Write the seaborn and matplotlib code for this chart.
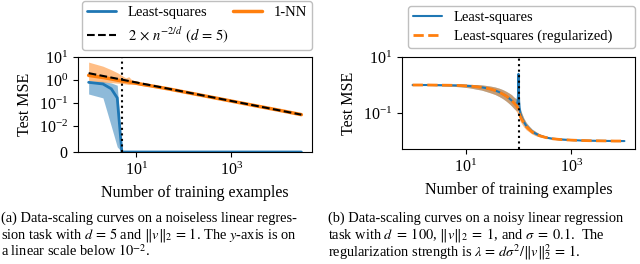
import numpy as np
import pandas as pd
import matplotlib
matplotlib.use("Agg")
import matplotlib.pyplot as plt
import seaborn as sns

# panel (a): noiseless, d = 5
n_a = [1, 2, 3, 4, 5, 6, 7, 8, 10, 13, 20, 50, 100, 300, 1000, 3000, 10000, 30000]
knn = [1.6, 1.3, 1.12, 1.0, 0.92, 0.87, 0.84, 0.79, 0.74, 0.66, 0.57, 0.41, 0.31, 0.2, 0.124, 0.08, 0.05, 0.032]
knn_lo = [0.95, 0.82, 0.78, 0.74, 0.72, 0.68, 0.64, 0.66, 0.64, 0.58, 0.53, 0.39, 0.3, 0.195, 0.121, 0.078, 0.049, 0.031]
knn_hi = [6.0, 4.0, 2.8, 2.1, 1.6, 1.25, 1.4, 1.05, 0.9, 0.78, 0.63, 0.43, 0.325, 0.206, 0.127, 0.082, 0.051, 0.033]

ls_n_a = [1, 2, 3, 4, 5, 30000]
ls_a = [0.8, 0.68, 0.42, 0.17, 0, 0]
ls_a_lo = [0.25, 0.17, 0.01, 0.002, 0, 0]
ls_a_hi = [0.92, 0.88, 0.75, 0.6, 0, 0]

ref_n = [1, 30000]
ref_y = [2.0, 0.032]

# panel (b): noisy, d = 100
n_b = [1, 2, 3, 5, 8, 12, 16, 20, 25, 30, 36, 43, 50, 58, 66, 74, 82, 88, 92, 96, 98, 99, 100,
       101, 102, 104, 108, 115, 125, 140, 160, 180, 210, 250, 300, 363, 450, 600, 800, 1100,
       1500, 2200, 3000, 4500, 6500, 10000]
ridge = [1.0, 1.0, 0.99, 0.98, 0.96, 0.92, 0.87, 0.83, 0.77, 0.71, 0.64, 0.56, 0.48, 0.41, 0.34, 0.28,
         0.23, 0.2, 0.18, 0.16, 0.15, 0.14, 0.13, 0.12, 0.11, 0.092, 0.076, 0.06, 0.045, 0.033,
         0.026, 0.021, 0.018, 0.0155, 0.014, 0.0128, 0.012, 0.0114, 0.011, 0.0107, 0.0105, 0.0103,
         0.0102, 0.0101, 0.01, 0.01]
ridge_lo = [0.98, 0.97, 0.95, 0.92, 0.86, 0.79, 0.71, 0.66, 0.58, 0.52, 0.46, 0.39, 0.33, 0.27, 0.22, 0.18,
            0.145, 0.125, 0.11, 0.097, 0.09, 0.085, 0.08, 0.075, 0.07, 0.06, 0.05, 0.041, 0.032, 0.025,
            0.021, 0.0178, 0.0155, 0.014, 0.013, 0.0122, 0.0115, 0.0111, 0.0108, 0.0106, 0.0104,
            0.0102, 0.0101, 0.01, 0.0099, 0.0099]
ridge_hi = [1.02, 1.03, 1.04, 1.05, 1.07, 1.06, 1.03, 1.01, 0.96, 0.91, 0.85, 0.77, 0.69, 0.6, 0.52, 0.45,
            0.37, 0.33, 0.3, 0.26, 0.24, 0.23, 0.22, 0.2, 0.18, 0.16, 0.13, 0.1, 0.066, 0.045,
            0.033, 0.026, 0.022, 0.0178, 0.0155, 0.0137, 0.0126, 0.0118, 0.0113, 0.0109, 0.0106,
            0.0104, 0.0103, 0.0102, 0.0101, 0.0101]
ls_b = [1.0, 1.0, 0.99, 0.98, 0.96, 0.92, 0.87, 0.83, 0.77, 0.71, 0.64, 0.56, 0.48, 0.41, 0.34, 0.28,
        0.23, 0.21, 0.2, 0.25, 0.4, 0.8, 2.5, 0.7, 0.35, 0.16, 0.1, 0.07, 0.05, 0.035,
        0.027, 0.022, 0.0185, 0.0158, 0.0142, 0.0129, 0.0121, 0.0115, 0.0111, 0.0107, 0.0105, 0.0103,
        0.0102, 0.0101, 0.01, 0.01]
ls_b_lo = [0.98, 0.97, 0.95, 0.92, 0.86, 0.79, 0.71, 0.66, 0.58, 0.52, 0.46, 0.39, 0.33, 0.27, 0.22, 0.18,
           0.145, 0.13, 0.12, 0.12, 0.15, 0.2, 0.25, 0.2, 0.14, 0.09, 0.065, 0.05, 0.038, 0.028,
           0.023, 0.019, 0.0162, 0.0145, 0.0133, 0.0124, 0.0117, 0.0112, 0.0108, 0.0106, 0.0104,
           0.0102, 0.0101, 0.01, 0.0099, 0.0099]
ls_b_hi = [1.02, 1.03, 1.04, 1.05, 1.07, 1.06, 1.03, 1.01, 0.96, 0.91, 0.85, 0.77, 0.69, 0.6, 0.52, 0.45,
           0.37, 0.34, 0.32, 0.4, 0.8, 1.5, 3.0, 1.2, 0.6, 0.26, 0.15, 0.1, 0.068, 0.046,
           0.034, 0.027, 0.022, 0.018, 0.0156, 0.0138, 0.0127, 0.0119, 0.0114, 0.011, 0.0106,
           0.0104, 0.0103, 0.0102, 0.0101, 0.0101]

sns.set_style("ticks")
plt.rcParams["font.family"] = ["Liberation Serif", "DejaVu Serif"]
plt.rcParams["mathtext.fontset"] = "stix"
plt.rcParams["axes.edgecolor"] = "black"
plt.rcParams["xtick.color"] = "black"
plt.rcParams["ytick.color"] = "black"
plt.rcParams["text.color"] = "black"
plt.rcParams["axes.labelcolor"] = "black"
plt.rcParams["xtick.major.size"] = 3.5
plt.rcParams["ytick.major.size"] = 3.5

blue = "#1f77b4"
orange = "#ff7f0e"
fs = 11.5

fig = plt.figure(figsize=(6.4, 2.64), dpi=100)
ax1 = fig.add_axes([78 / 640, 1 - 152 / 264, 234 / 640, 95 / 264])
ax2 = fig.add_axes([402 / 640, 1 - 149 / 264, 233 / 640, 92 / 264])

leg_kw = dict(mode="expand", loc="lower left", borderaxespad=0, fontsize=10.5,
              frameon=True, fancybox=True, edgecolor="0.75", facecolor="white",
              framealpha=1.0, labelspacing=0.35, borderpad=0.35)

# ---- left panel
ax1.set_xscale("log")
ax1.set_yscale("symlog", linthresh=1e-2)
ax1.fill_between(ls_n_a, ls_a_lo, ls_a_hi, color=blue, alpha=0.5, lw=0)
ax1.fill_between(n_a, knn_lo, knn_hi, color=orange, alpha=0.5, lw=0)
sns.lineplot(x=ls_n_a, y=ls_a, ax=ax1, color=blue, lw=2, label="Least-squares")
sns.lineplot(x=n_a, y=knn, ax=ax1, color=orange, lw=2.5, label="1-NN")
sns.lineplot(x=ref_n, y=ref_y, ax=ax1, color="black", lw=1.5, linestyle="--",
             label=r"$2\,\times\,n^{-2/d}$ $(d\,=\,5)$")
ax1.axvline(5, color="black", ls=":", lw=1.5)
ax1.set_ylim(0, 10)
ax1.set_yticks([0, 1e-2, 1e-1, 1, 10])
ax1.set_xticks([10, 1000])
ax1.minorticks_off()
ax1.set_ylabel("Test MSE", fontsize=fs)
ax1.set_xlabel("Number of training examples", fontsize=fs)
ax1.tick_params(labelsize=fs)
h, l = ax1.get_legend_handles_labels()
order = [0, 2, 1]
leg1 = ax1.legend([h[i] for i in order], [l[i] for i in order], ncol=2,
                  bbox_to_anchor=(4 / 234, 1 + 7 / 95, 230 / 234, 0), **leg_kw)
leg1.get_frame().set_linewidth(1.0)

# ---- right panel
ax2.set_xscale("log")
ax2.set_yscale("log")
ax2.fill_between(n_b, ls_b_lo, ls_b_hi, color=blue, alpha=0.5, lw=0)
ax2.fill_between(n_b, ridge_lo, ridge_hi, color=orange, alpha=0.5, lw=0)
sns.lineplot(x=n_b, y=ls_b, ax=ax2, color=blue, lw=1.5, label="Least-squares")
sns.lineplot(x=n_b, y=ridge, ax=ax2, color=orange, lw=2, linestyle="--",
             label="Least-squares (regularized)")
ax2.axvline(100, color="black", ls=":", lw=1.5)
ax2.set_ylim(0.0052, 10)
ax2.set_yticks([0.1, 10])
ax2.set_xticks([10, 1000])
ax2.minorticks_off()
ax2.set_ylabel("Test MSE", fontsize=fs)
ax2.set_xlabel("Number of training examples", fontsize=fs)
ax2.tick_params(labelsize=fs)
leg2 = ax2.legend(bbox_to_anchor=(6 / 233, 1 + 9 / 92, 227 / 233, 0), **leg_kw)
leg2.get_frame().set_linewidth(1.0)

# captions
cap_a = [r"(a) Data-scaling curves on a noiseless linear regres-",
         r"sion task with $d\,=\,5$ and $\Vert v\Vert_2\,=\,1$. The $y$-axis is on",
         r"a linear scale below $10^{-2}$."]
cap_b = [r"(b) Data-scaling curves on a noisy linear regression",
         r"task with $d\;=\;100$, $\Vert v\Vert_2\;=\;1$, and $\sigma\;=\;0.1$.  The",
         r"regularization strength is $\lambda\,=\,d\sigma^2/\Vert v\Vert_2^2\,=\,1$."]
cap_y = [222, 238.5, 256.5]
for ta, tb, yy in zip(cap_a, cap_b, cap_y):
    y = 1 - yy / 264
    fig.text(1 / 640, y, ta, fontsize=10.4, va="baseline", ha="left")
    fig.text(328 / 640, y, tb, fontsize=10.4, va="baseline", ha="left")

fig.savefig("out.png", dpi=100)
